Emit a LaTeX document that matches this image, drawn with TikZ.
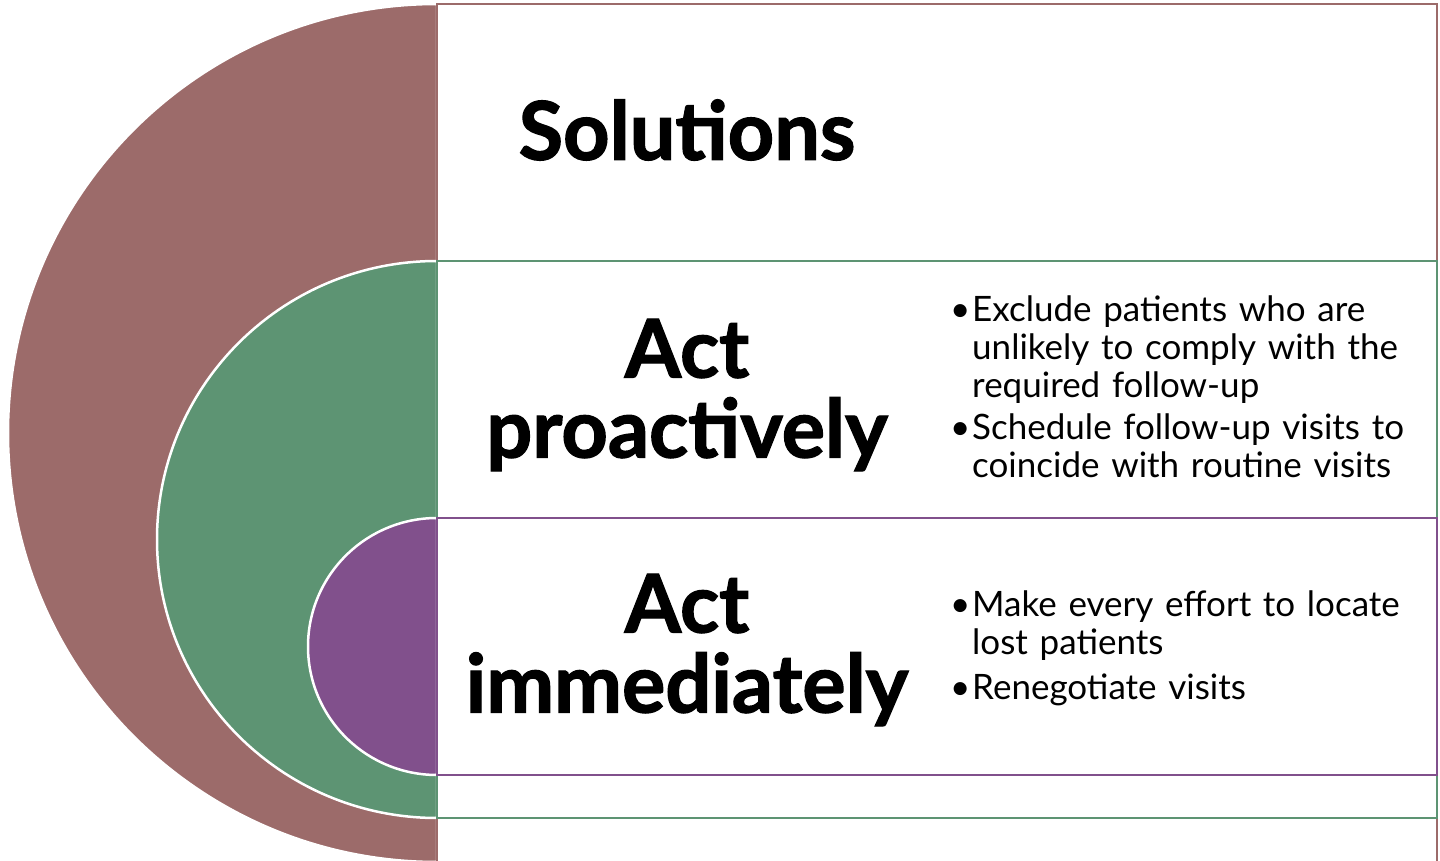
\documentclass[tikz,border=0pt]{standalone}
\usepackage{fontspec}
\setmainfont{Lato}[BoldFeatures={FakeBold=1.6}]
\definecolor{solbrown}{HTML}{9C6B6A}
\definecolor{solgreen}{HTML}{5D9473}
\definecolor{solpurple}{HTML}{81508C}
% one bulleted point: bullet, then a ragged block of lines
\newcommand\bitem[1]{\noindent\makebox[22pt][l]{\textbullet}\parbox[t]{440pt}{\raggedright #1}\par}
\begin{document}
\begin{tikzpicture}[x=1pt,y=1pt,
  halfdisc/.style={line width=2.5pt,draw=white},
  band/.style={line width=2.5pt,fill=white},
  heading/.style={font=\bfseries\fontsize{81}{80}\selectfont,align=center,text=black},
  points/.style={font=\fontsize{35}{38}\selectfont,text width=470pt,align=left,anchor=north west,inner sep=0pt}]
\useasboundingbox (0,0) rectangle (1440,860);
\clip (0,0) rectangle (1440,860);
% half discs, outermost first
\fill[solbrown,halfdisc] (437,856) arc[start angle=90,end angle=270,x radius=429,y radius=429] -- cycle;
\fill[solgreen,halfdisc] (437,599) arc[start angle=90,end angle=270,x radius=280,y radius=278.5] -- cycle;
\fill[solpurple,halfdisc] (437,342) arc[start angle=90,end angle=270,x radius=129,y radius=128.5] -- cycle;
% text bands
\draw[band,draw=solbrown] (437,-10) rectangle (1437,856);
\draw[band,draw=solgreen] (437,42) rectangle (1437,599);
\draw[band,draw=solpurple] (437,85) rectangle (1437,342);
% headings
\node[heading] (sol) at (687,730) {Solutions};
\node[heading] (pro) at (687,465) {Act\\proactively};
\node[heading] (imm) at (687,210) {Act\\immediately};
% bullet lists
\node[points] (prolist) at (950,564) {%
  \bitem{Exclude patients who are\\unlikely to comply with the\\required follow-up}\vspace{9pt}
  \bitem{Schedule follow-up visits to\\coincide with routine visits}};
\node[points] (immlist) at (950,269) {%
  \bitem{Make every effort to locate\\lost patients}\vspace{12pt}
  \bitem{Renegotiate visits}};
\end{tikzpicture}
\end{document}
